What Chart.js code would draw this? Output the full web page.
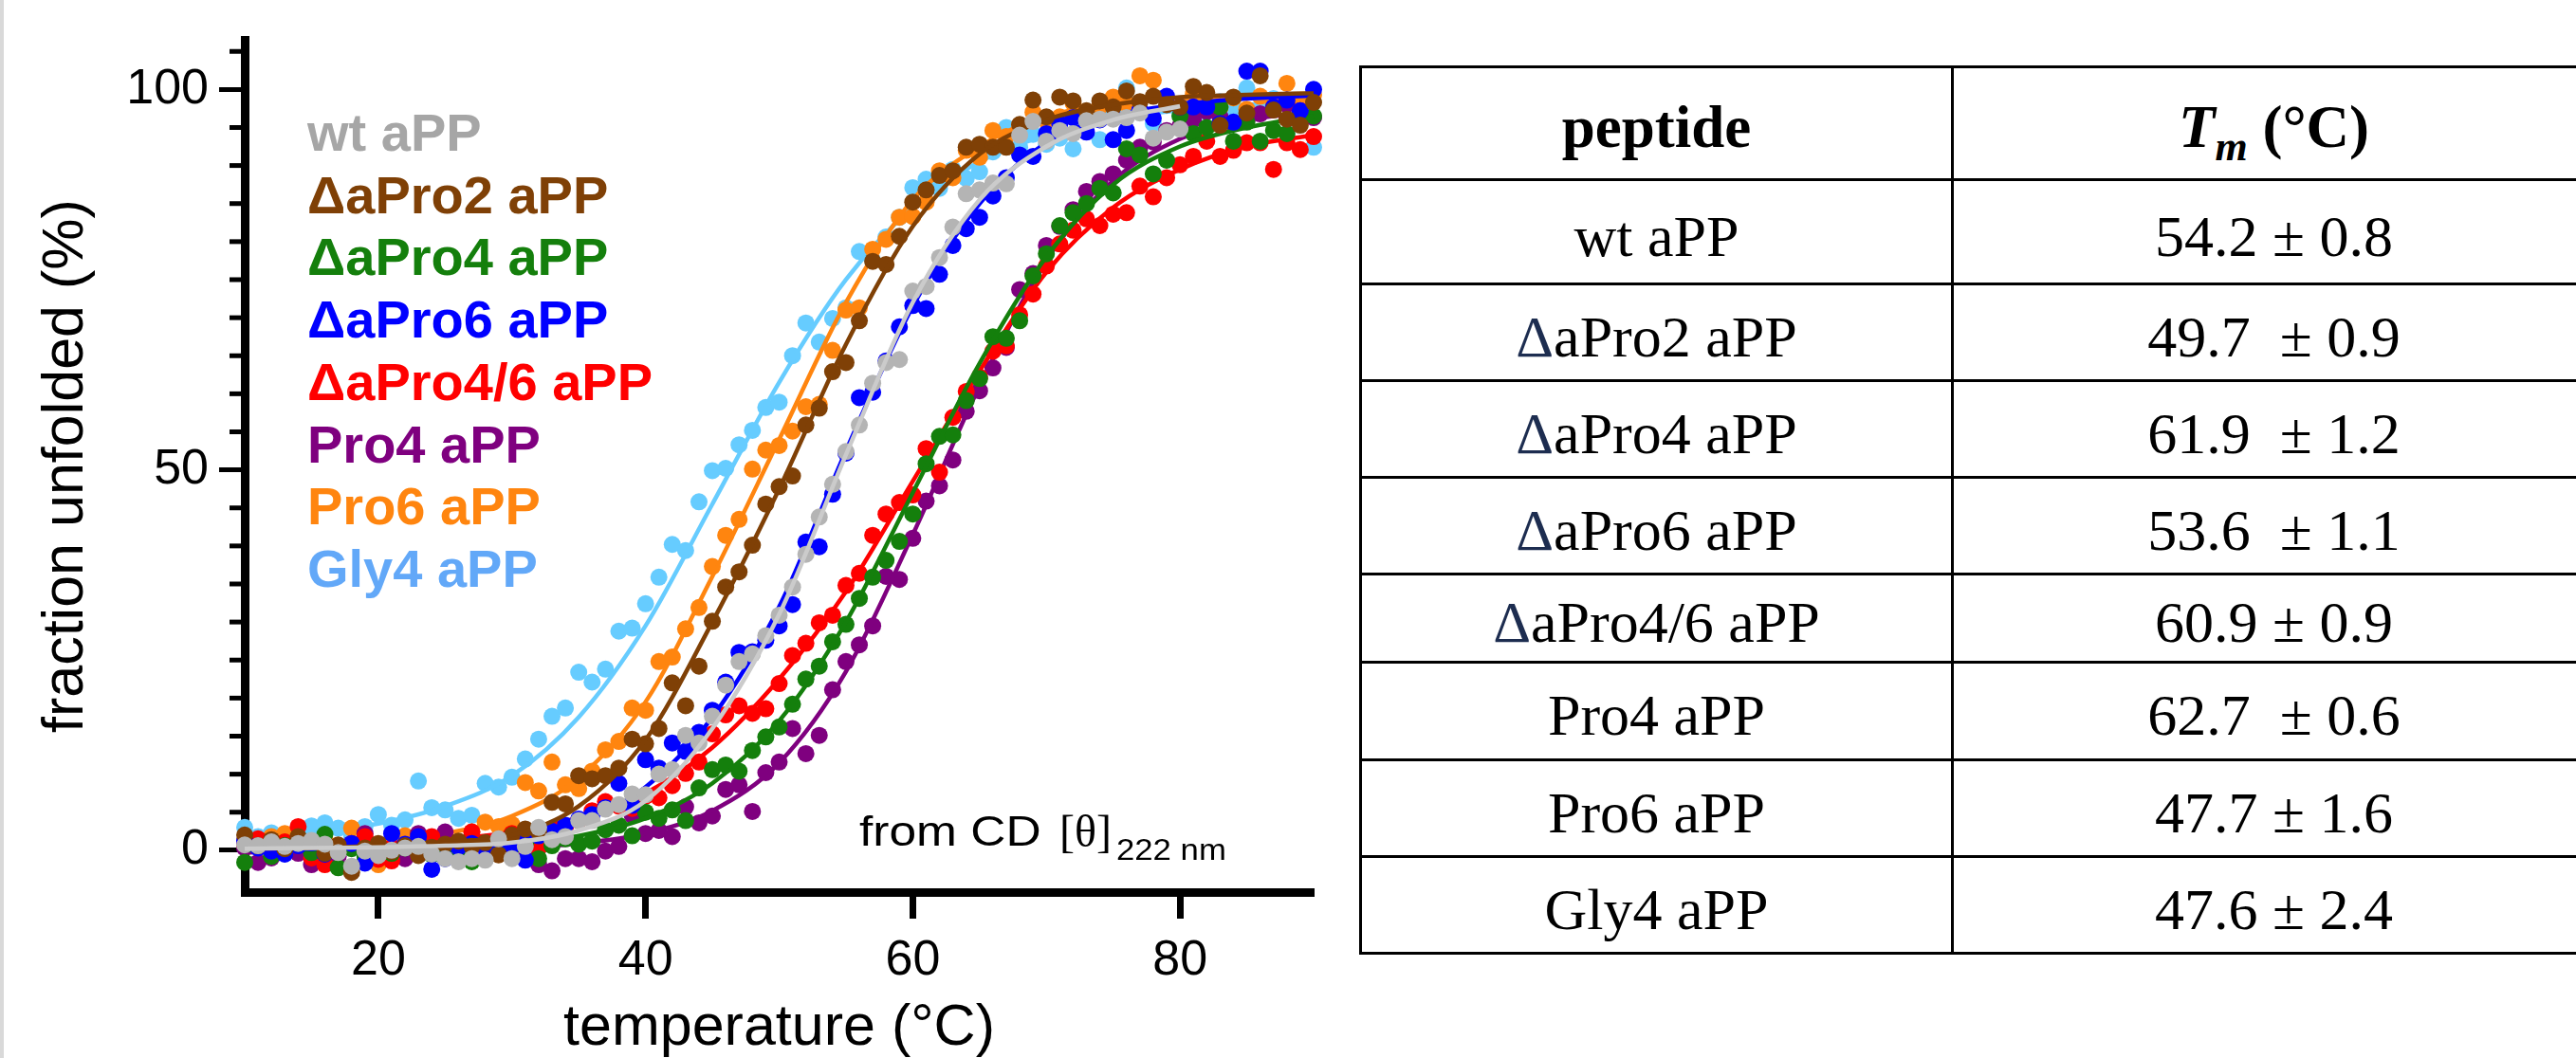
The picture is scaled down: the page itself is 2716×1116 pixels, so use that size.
<!DOCTYPE html>
<html>
<head>
<meta charset="utf-8">
<script src="https://cdn.jsdelivr.net/npm/chart.js@4.4.1/dist/chart.umd.min.js"></script>
<style>
  html, body { margin: 0; padding: 0; background: #fff; overflow: hidden; }
  body { width: 2716px; height: 1116px; position: relative; }
  #edge { position: absolute; left: 0; top: 0; width: 4px; height: 1116px; background: #d9d9d9; }
  #plot { position: absolute; left: 0; top: 0; }
  #tm {
    position: absolute; left: 1433px; top: 69px; width: 1302px;
    border-collapse: collapse; table-layout: fixed;
    font-family: "Liberation Serif", "Times New Roman", serif; font-size: 62px; color: #000;
  }
  #tm td, #tm th { border: 3px solid #000; text-align: center; vertical-align: middle; padding: 9px 0 0 0; white-space: pre; }
  #tm th { font-weight: bold; font-size: 63px; }
  #tm .delta { color: #1d2d50; }
  #tm sub { font-size: 44px; vertical-align: -14px; line-height: 0; }
</style>
</head>
<body>
<div id="edge"></div>
<canvas id="plot" width="1420" height="1116"></canvas>
<table id="tm">
  <colgroup><col style="width:624px"><col style="width:678px"></colgroup>
  <thead><tr style="height:119px"><th>peptide</th><th><i>T<sub>m</sub></i> (°C)</th></tr></thead>
  <tbody id="tmBody"></tbody>
</table>
<script>
// temperatures (°C)
const temps = [10,11,12,13,14,15,16,17,18,19,20,21,22,23,24,25,26,27,28,29,30,31,32,33,34,35,36,37,38,39,40,
  41,42,43,44,45,46,47,48,49,50,51,52,53,54,55,56,57,58,59,60,61,62,63,64,65,66,67,68,69,70,
  71,72,73,74,75,76,77,78,79,80,81,82,83,84,85,86,87,88,89,90];
const tempsWt = [10,11,12,13,14,15,16,17,18,19,20,21,22,23,24,25,26,27,28,29,30,31,32,33,34,35,36,37,38,39,40,
  41,42,43,44,45,46,47,48,49,50,51,52,53,54,55,56,57,58,59,60,61,62,63,64,65,66,67,68,69,70,
  71,72,73,74,75,76,77,78,79,80];
const fitTemps = [10,15,20,25,30,35,40,45,50,55,60,65,70,75,80,85,90];
const fitTempsWt = [10,15,20,25,30,35,40,45,50,55,60,65,70,75,80];

// fraction unfolded (%) per peptide
const wtApp = [0.7,0.6,1.1,0.5,0.9,1.3,0.8,-0.3,-2.1,-0.1,-0.7,0.0,0.3,0.5,-0.5,-1.1,-1.5,-1.1,-1.3,1.5,-1.1,
  0.5,3.0,1.4,1.8,3.9,3.9,5.4,6.0,7.4,7.3,10.0,10.6,15.1,14.1,17.6,21.7,24.8,25.8,28.2,30.9,
  34.6,38.9,43.8,48.1,52.4,55.9,61.4,64.1,64.5,73.5,74.1,77.9,81.9,86.3,86.8,87.7,87.6,94.0,95.8,93.2,
  94.6,94.2,95.9,96.1,96.1,96.3,96.9,93.6,94.4,94.8];
const dPro2 = [2.0,0.6,1.4,0.2,1.8,1.2,-0.4,0.7,-2.9,0.3,0.9,-0.2,0.6,-0.7,0.4,0.8,1.2,0.5,1.0,-0.6,2.0,
  2.8,2.4,6.3,6.1,9.8,9.4,9.8,10.8,14.6,14.0,16.0,22.0,19.0,24.2,30.1,34.6,36.6,40.1,45.5,47.8,
  49.2,55.9,58.1,62.9,64.1,69.6,77.4,77.0,80.7,85.2,86.8,88.7,89.3,92.4,92.8,92.4,92.4,95.4,98.6,96.4,
  99.0,98.5,97.2,98.5,97.7,99.8,98.4,99.1,98.0,97.7,100.4,99.6,95.3,99.0,96.9,101.8,97.3,96.1,95.3,98.3];
const dPro4 = [-1.6,0.4,-0.8,0.6,1.2,-0.3,2.1,-2.3,0.2,-0.9,0.5,-0.4,0.3,1.0,-0.6,0.2,-0.8,-1.5,0.3,-0.2,0.4,
  0.9,-1.1,0.6,1.5,0.8,1.2,2.7,3.3,1.9,5.0,4.2,5.3,3.9,8.2,10.6,11.2,10.4,13.1,14.9,16.2,
  19.2,22.5,24.2,27.4,29.7,33.1,35.9,38.1,40.6,44.2,50.8,54.4,54.6,59.1,62.0,67.5,67.3,69.6,75.5,78.4,
  82.1,83.8,85.0,87.0,86.4,92.2,91.4,88.9,90.7,96.5,94.2,95.0,97.7,93.2,95.7,93.2,94.6,94.2,96.9,96.5];
const dPro6 = [1.2,0.3,-0.1,-0.5,0.6,1.0,-0.5,0.4,0.9,-1.7,0.2,2.2,0.8,1.8,-2.5,-1.1,0.4,0.9,0.1,1.3,0.6,
  -1.3,1.9,2.5,3.3,4.1,4.7,5.6,8.8,5.9,11.9,10.8,14.1,13.0,15.5,18.4,22.1,26.0,26.1,27.6,29.5,
  32.3,40.5,39.9,46.8,52.2,59.5,60.2,64.3,68.8,71.6,71.2,75.7,79.5,81.7,83.2,86.0,88.4,91.4,91.2,94.2,
  95.5,96.3,94.4,96.0,93.4,94.6,97.3,96.2,99.1,97.7,97.7,97.7,95.5,95.7,102.4,102.4,97.7,98.6,97.2,100.0];
const dPro46 = [0.8,1.5,0.2,1.1,3.1,-1.0,-1.9,0.4,0.9,1.8,-1.2,-1.4,0.5,0.1,1.8,0.6,-0.3,2.4,0.9,1.2,2.2,
  1.6,0.3,2.4,3.0,3.9,5.2,6.4,5.8,5.5,7.1,6.9,8.5,10.1,11.6,15.3,17.8,19.0,18.0,18.6,21.9,
  25.6,27.2,29.9,30.9,34.8,36.4,41.4,44.2,45.7,46.7,52.8,49.7,56.9,60.3,62.2,65.6,66.3,70.4,73.1,76.8,
  79.7,81.5,83.0,82.1,83.6,83.8,87.3,85.9,88.4,90.1,91.2,93.2,91.2,92.0,93.0,93.0,89.5,93.0,92.1,93.8];
const pro4 = [0.3,-1.6,-1.0,0.5,-0.4,-1.9,0.2,-0.8,0.6,2.2,0.1,-0.5,-1.1,2.2,0.4,2.4,0.3,-0.6,0.8,-0.2,0.5,
  -0.9,-1.9,-2.7,-1.1,-1.1,-1.5,-0.1,0.5,4.6,2.2,2.6,1.8,5.7,3.6,4.5,8.0,8.6,5.1,10.2,11.6,
  16.0,12.7,15.1,21.1,24.8,27.0,29.5,36.0,35.6,41.0,45.9,47.9,51.3,57.7,60.4,63.4,66.1,73.7,75.8,79.5,
  82.0,84.2,86.6,87.9,88.9,90.7,92.4,93.1,94.6,95.2,96.0,97.1,96.4,95.5,95.9,96.8,97.5,98.0,97.2,96.3];
const pro6 = [1.2,0.4,1.8,2.2,0.9,0.3,1.5,0.6,2.9,1.0,-1.9,0.8,1.9,0.5,1.2,2.0,1.1,2.4,3.7,3.1,3.4,
  8.9,7.8,11.6,8.6,8.1,10.4,13.2,14.3,18.7,18.4,24.8,25.4,29.1,31.9,37.3,41.4,43.5,50.1,52.6,53.2,
  55.1,58.3,58.6,65.7,71.0,71.3,79.0,80.3,83.2,83.3,85.2,89.3,88.4,92.0,91.1,94.6,93.8,95.3,97.0,95.9,
  96.4,98.2,96.9,97.8,99.0,98.1,101.8,101.2,98.6,97.9,99.4,98.2,97.6,98.9,97.4,99.1,98.0,100.8,98.5,99.3];
const gly4 = [3.0,1.8,2.3,1.5,2.6,3.2,3.6,2.9,1.9,3.1,4.7,3.3,4.0,9.1,5.6,5.3,4.2,4.6,8.8,8.3,9.6,
  12.0,14.6,17.6,18.7,23.4,22.1,23.8,28.8,29.2,32.4,35.9,40.2,39.4,45.8,49.9,50.2,53.3,55.2,58.2,58.9,
  65.0,69.3,66.8,69.9,71.3,78.7,77.5,80.6,83.2,87.1,88.2,87.0,89.5,88.3,89.2,91.8,95.0,92.4,94.1,92.8,
  93.6,92.2,95.4,93.4,96.8,100.2,97.2,95.5,97.9,96.6,98.1,97.0,98.4,96.9,100.2,97.5,98.8,94.2,96.0,92.4];

// fitted curves at fitTemps
const fitWt    = [0.2,0.3,0.4,0.6,1.0,2.6,6.5,16.0,31.0,52.0,72.0,85.5,92.5,96.0,97.8];
const fitPro2  = [0.2,0.3,0.6,1.1,2.0,5.8,14.5,30.0,47.5,66.5,82.0,91.5,96.0,98.0,99.0,99.3,99.5];
const fitPro4d = [0.0,0.1,0.2,0.4,0.9,1.9,4.2,8.8,17.0,30.0,47.0,64.0,78.0,87.5,92.5,95.0,96.5];
const fitPro6d = [0.1,0.2,0.4,0.7,1.5,3.6,8.3,17.5,32.0,52.5,71.5,85.0,93.0,96.5,98.0,98.8,99.2];
const fitPro46 = [0.5,0.6,0.9,1.4,2.4,4.3,7.5,13.5,22.5,34.0,48.5,63.0,76.0,84.5,89.5,92.5,94.0];
const fitPro4  = [-0.3,-0.2,-0.1,0.0,0.3,0.9,2.2,5.2,11.5,23.5,41.5,61.0,77.5,88.0,93.5,96.0,97.0];
const fitPro6  = [0.5,0.8,1.2,2.2,4.5,9.5,19.5,36.0,54.0,72.0,85.5,92.5,96.5,98.0,98.8,99.2,99.5];
const fitGly4  = [1.5,2.2,3.5,5.8,9.8,17.5,29.5,45.5,61.5,75.0,84.5,90.5,94.0,96.0,97.3,98.0,98.5];

// axes
const xTicks = [20, 40, 60, 80];
const yTicks = [0, 50, 100];
const yMinorTicks = [5,10,15,20,25,30,35,40,45,55,60,65,70,75,80,85,90,95,105];

// table
const peptides = ['wt aPP','ΔaPro2 aPP','ΔaPro4 aPP','ΔaPro6 aPP','ΔaPro4/6 aPP','Pro4 aPP','Pro6 aPP','Gly4 aPP'];
const tmText = ['54.2 ± 0.8','49.7  ± 0.9','61.9  ± 1.2','53.6  ± 1.1','60.9 ± 0.9','62.7  ± 0.6','47.7 ± 1.6','47.6 ± 2.4'];
const rowHeights = [110, 102, 102, 102, 93, 103, 102, 102];

// series in legend order
const series = [
  { label: 'wt aPP',       x: tempsWt, y: wtApp,  fx: fitTempsWt, fy: fitWt,    color: '#b4b4b4', line: '#cbcbcb', text: '#a6a6a6' },
  { label: 'ΔaPro2 aPP',   x: temps,   y: dPro2,  fx: fitTemps,   fy: fitPro2,  color: '#7f4006', line: '#7f4006', text: '#7f4006' },
  { label: 'ΔaPro4 aPP',   x: temps,   y: dPro4,  fx: fitTemps,   fy: fitPro4d, color: '#147f0c', line: '#147f0c', text: '#147f0c' },
  { label: 'ΔaPro6 aPP',   x: temps,   y: dPro6,  fx: fitTemps,   fy: fitPro6d, color: '#0000ff', line: '#0000ff', text: '#0000ff' },
  { label: 'ΔaPro4/6 aPP', x: temps,   y: dPro46, fx: fitTemps,   fy: fitPro46, color: '#ff0000', line: '#ff0000', text: '#ff0000' },
  { label: 'Pro4 aPP',     x: temps,   y: pro4,   fx: fitTemps,   fy: fitPro4,  color: '#7f007f', line: '#7f007f', text: '#7f007f' },
  { label: 'Pro6 aPP',     x: temps,   y: pro6,   fx: fitTemps,   fy: fitPro6,  color: '#ff850f', line: '#ff850f', text: '#ff850f' },
  { label: 'Gly4 aPP',     x: temps,   y: gly4,   fx: fitTemps,   fy: fitGly4,  color: '#66ccff', line: '#66ccff', text: '#62a8f8' }
];
// first listed is drawn on top
const drawOrder = [0, 1, 3, 2, 4, 5, 6, 7];

const datasets = [];
drawOrder.forEach(i => {
  const s = series[i];
  datasets.push({
    label: s.label + ' fit',
    data: s.fx.map((t, k) => ({ x: t, y: s.fy[k] })),
    showLine: true, borderColor: s.line, borderWidth: 4.5,
    pointRadius: 0, cubicInterpolationMode: 'monotone', clip: false
  });
  datasets.push({
    label: s.label,
    data: s.x.map((t, k) => ({ x: t, y: s.y[k] })),
    showLine: false, backgroundColor: s.color, borderWidth: 0,
    pointRadius: 9, pointHoverRadius: 9, clip: false
  });
});

const minorTicks = {
  id: 'minorTicks',
  beforeDatasetsDraw(chart) {
    const ctx = chart.ctx, y = chart.scales.y, left = chart.chartArea.left;
    ctx.save();
    ctx.strokeStyle = '#000';
    ctx.lineWidth = 5;
    yMinorTicks.forEach(v => {
      const py = y.getPixelForValue(v);
      ctx.beginPath();
      ctx.moveTo(left - 16, py);
      ctx.lineTo(left, py);
      ctx.stroke();
    });
    ctx.restore();
  }
};

const labels = {
  id: 'labels',
  afterDraw(chart) {
    const ctx = chart.ctx;
    ctx.save();
    ctx.textBaseline = 'alphabetic';
    ctx.textAlign = 'left';
    ctx.font = 'bold 56px "Liberation Sans", Arial, sans-serif';
    series.forEach((s, i) => {
      ctx.fillStyle = s.text;
      ctx.fillText(s.label, 324, 159 + i * 65.7);
    });
    ctx.fillStyle = '#000';
    ctx.save();
    ctx.translate(906, 892);
    ctx.scale(1.17, 1);
    ctx.font = '44px "Liberation Sans", Arial, sans-serif';
    ctx.fillText('from CD', 0, 0);
    ctx.restore();
    ctx.font = '48px "Liberation Serif", "Times New Roman", serif';
    ctx.fillText('[θ]', 1117, 893);
    ctx.save();
    ctx.translate(1177, 907);
    ctx.scale(1.12, 1);
    ctx.font = '31px "Liberation Sans", Arial, sans-serif';
    ctx.fillText('222 nm', 0, 0);
    ctx.restore();
    ctx.restore();
  }
};

Chart.defaults.font.family = '"Liberation Sans", Arial, sans-serif';
Chart.defaults.color = '#000';

new Chart(document.getElementById('plot').getContext('2d'), {
  type: 'scatter',
  data: { datasets: datasets },
  options: {
    responsive: false,
    animation: false,
    devicePixelRatio: 1,
    layout: { padding: { top: 30, right: 35, left: 0, bottom: 0 } },
    plugins: { legend: { display: false }, tooltip: { enabled: false } },
    scales: {
      x: {
        type: 'linear', min: 10, max: 90,
        afterBuildTicks: s => { s.ticks = xTicks.map(v => ({ value: v })); },
        afterFit: s => { s.height = 175; },
        border: { display: true, width: 9, color: '#000' },
        grid: { display: true, drawOnChartArea: false, drawTicks: true, tickLength: 28, tickWidth: 7, tickColor: '#000' },
        ticks: { color: '#000', font: { size: 52 }, padding: 13, maxRotation: 0, autoSkip: false },
        title: { display: true, text: 'temperature (°C)', color: '#000', font: { size: 61, lineHeight: 1 }, padding: { top: 0, bottom: 0 } }
      },
      y: {
        type: 'linear', min: -5.5, max: 106.5,
        afterBuildTicks: s => { s.ticks = yTicks.map(v => ({ value: v })); },
        afterFit: s => { s.width = 258; },
        border: { display: true, width: 9, color: '#000' },
        grid: { display: true, drawOnChartArea: false, drawTicks: true, tickLength: 27, tickWidth: 5, tickColor: '#000' },
        ticks: { color: '#000', font: { size: 52 }, padding: 11, autoSkip: false },
        title: { display: true, text: 'fraction unfolded (%)', color: '#000', font: { size: 61, lineHeight: 1 }, padding: { top: 40, bottom: 0 } }
      }
    }
  },
  plugins: [minorTicks, labels]
});

// table rows
const body = document.getElementById('tmBody');
peptides.forEach((p, i) => {
  const tr = document.createElement('tr');
  tr.style.height = rowHeights[i] + 'px';
  const td1 = document.createElement('td');
  if (p.startsWith('Δ')) {
    const d = document.createElement('span');
    d.className = 'delta';
    d.textContent = 'Δ';
    td1.appendChild(d);
    td1.appendChild(document.createTextNode(p.slice(1)));
  } else {
    td1.textContent = p;
  }
  const td2 = document.createElement('td');
  td2.textContent = tmText[i];
  tr.appendChild(td1);
  tr.appendChild(td2);
  body.appendChild(tr);
});
</script>
</body>
</html>
